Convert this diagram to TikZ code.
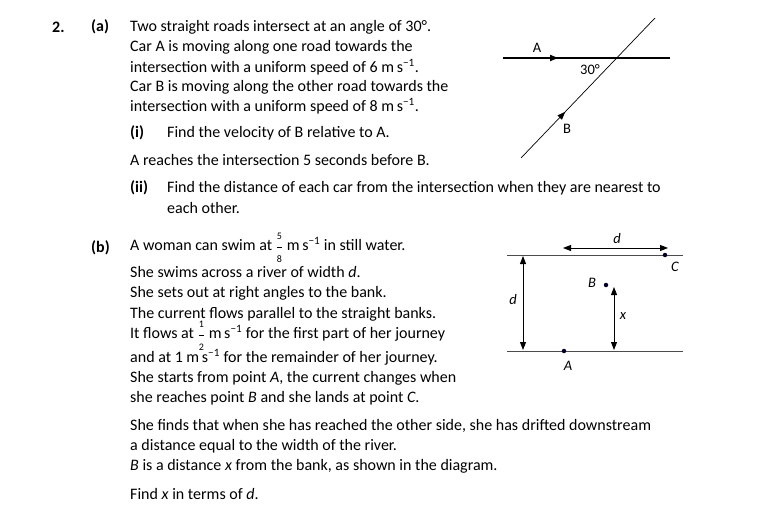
\documentclass[tikz,border=0pt]{standalone}
\usepackage{fontspec}
\usepackage{amsmath}
\setmainfont{Carlito}
\usetikzlibrary{arrows.meta,decorations.markings}
\newcommand{\ms}{m\,s\textsuperscript{−1}}
\newcommand{\fr}[2]{\raisebox{-0.1ex}{$\genfrac{}{}{0.5pt}{0}{\mbox{\fontsize{10}{10}\selectfont #1}}{\mbox{\fontsize{10}{10}\selectfont #2}}$}}
\begin{document}
\begin{tikzpicture}[x=1pt,y=-1pt,
  txt/.style={anchor=west,inner sep=0pt,font=\fontsize{16}{18}\selectfont},
  lbl/.style={inner sep=0pt,font=\fontsize{14.5}{16}\selectfont},
  midarrow/.style={postaction={decorate},decoration={markings,mark=at position #1 with {\arrow{Triangle[length=8pt,width=6pt]}}}},
  dot/.style={circle,fill=black!85!blue,inner sep=0pt,minimum size=4.5pt},
  dim/.style={{Triangle[length=8pt,width=6pt]}-{Triangle[length=8pt,width=6pt]},line width=0.9pt}]
\useasboundingbox (0,0) rectangle (765,516);
% text part (a)
\node[txt,font=\bfseries\fontsize{16}{18}\selectfont] (n2) at (52,27) {2.};
\node[txt,font=\bfseries\fontsize{16}{18}\selectfont] (pa) at (91,27) {(a)};
\node[txt] (t1) at (130,27) {Two straight roads intersect at an angle of 30°.};
\node[txt] (t2) at (130,47) {Car A is moving along one road towards the};
\node[txt] (t3) at (130,67) {intersection with a uniform speed of 6 \ms.};
\node[txt] (t4) at (130,87) {Car B is moving along the other road towards the};
\node[txt] (t5) at (130,106) {intersection with a uniform speed of 8 \ms.};
\node[txt,font=\bfseries\fontsize{16}{18}\selectfont] (pi) at (130,133) {(i)};
\node[txt] (t6) at (167,133) {Find the velocity of B relative to A.};
\node[txt] (t7) at (130,160) {A reaches the intersection 5 seconds before B.};
\node[txt,font=\bfseries\fontsize{16}{18}\selectfont] (pii) at (130,188) {(ii)};
\node[txt] (t8) at (167,188) {Find the distance of each car from the intersection when they are nearest to};
\node[txt] (t9) at (167,208) {each other.};
% part (b)
\node[txt,font=\bfseries\fontsize{16}{18}\selectfont] (pb) at (91,248) {(b)};
\node[txt] (b1) at (130,248) {A woman can swim at \fr58 \ms{} in still water.};
\node[txt] (b2) at (130,272) {She swims across a river of width \textit{d}.};
\node[txt] (b3) at (130,293) {She sets out at right angles to the bank.};
\node[txt] (b4) at (130,314) {The current flows parallel to the straight banks.};
\node[txt] (b5) at (130,336) {It flows at \fr12 \ms{} for the first part of her journey};
\node[txt] (b6) at (130,357) {and at 1 \ms{} for the remainder of her journey.};
\node[txt] (b7) at (130,378) {She starts from point \textit{A}, the current changes when};
\node[txt] (b8) at (130,398) {she reaches point \textit{B} and she lands at point \textit{C}.};
\node[txt] (b9) at (130,426) {She finds that when she has reached the other side, she has drifted downstream};
\node[txt] (b10) at (130,446) {a distance equal to the width of the river.};
\node[txt] (b11) at (130,466) {\textit{B} is a distance \textit{x} from the bank, as shown in the diagram.};
\node[txt] (b12) at (130,494) {Find \textit{x} in terms of \textit{d}.};
% diagram 1
\coordinate (h1) at (503,58); \coordinate (h2) at (670,58);
\coordinate (d1) at (521,158); \coordinate (d2) at (655,18);
\draw[line width=1.6pt,midarrow=0.33] (h1) -- (h2);
\draw[line width=0.7pt,midarrow=0.33] (d1) -- (d2);
\node[lbl] (la) at (537,48) {A};
\node[lbl] (l30) at (590,70) {30°};
\node[lbl] (lb) at (567,129) {B};
% diagram 2
\coordinate (t1a) at (507,255); \coordinate (t1b) at (683,255);
\coordinate (b1a) at (507,351); \coordinate (b1b) at (683,351);
\draw[line width=0.8pt,black!70] (t1a) -- (t1b);
\draw[line width=0.8pt,black!70] (b1a) -- (b1b);
\coordinate (v1) at (523,256); \coordinate (v2) at (523,350);
\draw[dim] (v1) -- (v2);
\node[lbl,font=\itshape\fontsize{14.5}{16}\selectfont] (ld) at (513,300) {d};
\coordinate (w1) at (563,248); \coordinate (w2) at (668,248);
\draw[dim] (w1) -- (w2);
\node[lbl,font=\itshape\fontsize{14.5}{16}\selectfont] (ld2) at (617,239) {d};
\node[dot] (C) at (665,255) {};
\node[lbl,font=\itshape\fontsize{14.5}{16}\selectfont] (lc) at (675,267) {C};
\node[dot] (B) at (606,285) {};
\node[lbl,font=\itshape\fontsize{14.5}{16}\selectfont] (lbb) at (592,283) {B};
\coordinate (x1) at (614,287); \coordinate (x2) at (614,350);
\draw[dim] (x1) -- (x2);
\node[lbl,font=\itshape\fontsize{14.5}{16}\selectfont] (lx) at (623,316) {x};
\node[dot] (A) at (564,351) {};
\node[lbl,font=\itshape\fontsize{14.5}{16}\selectfont] (lA) at (568,366) {A};
\end{tikzpicture}
\end{document}
